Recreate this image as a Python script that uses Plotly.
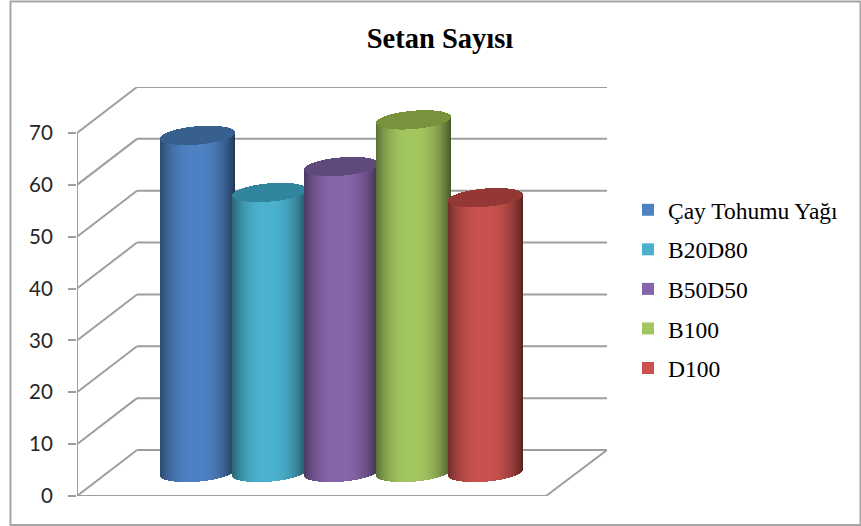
import numpy as np
import plotly.graph_objects as go

TITLE = "Setan Sayısı"
series_names = ["Çay Tohumu Yağı", "B20D80", "B50D50", "B100", "D100"]
series_values = [65, 54, 59, 68, 53]
body_colors = ["#4f82c4", "#4bb3d0", "#8765aa", "#a3c760", "#cb524e"]
cap_colors = ["#38608f", "#31859c", "#604a7b", "#77933c", "#953735"]
y_ticks = [0, 10, 20, 30, 40, 50, 60, 70]

W, H = 861, 526
MARGIN_B = 20
PH = H - MARGIN_B            # plot-area height in pixels
PX_PER_UNIT = 5.186          # pixels per value unit
PX_PER_CAT = 72.0            # pixels per category slot
FIRST_CENTER = 197.5         # pixel centre of first cylinder
AX_L, AX_R, AX_B, AX_T = 77, 607, 496, 87
FRONT_R = 546                # front-right floor corner, pixels
DEPTH_DX = 60 / PX_PER_CAT   # oblique offset of the back wall
DEPTH_DV = 46 / PX_PER_UNIT
LIFT = 23.5 / PX_PER_UNIT    # cylinders stand mid-depth on the floor
CAP_B = 9.2 / PX_PER_UNIT    # half height of the ellipse
CAP_TILT = 3.0 / PX_PER_UNIT
N_SLICES = 75
GRID = "#9e9e9e"

x_lo = (AX_L - FIRST_CENTER) / PX_PER_CAT
x_hi = (AX_R - FIRST_CENTER) / PX_PER_CAT
x_front_r = (FRONT_R - FIRST_CENTER) / PX_PER_CAT
y_hi = (AX_B - AX_T) / PX_PER_UNIT


def py(p):
    """Pixel row to paper fraction."""
    return (PH - p) / PH


def shade(hex_col, f):
    r, g, b = (int(hex_col[k:k + 2], 16) for k in (1, 3, 5))
    return f"rgb({int(r * f)},{int(g * f)},{int(b * f)})"


fig = go.Figure()
t = (np.arange(N_SLICES) + 0.5) / N_SLICES * 2 - 1
# start from the centre slice so the legend swatch takes the main colour
order = np.roll(np.arange(N_SLICES), -N_SLICES // 2)
half_w = N_SLICES / PX_PER_CAT / 2

for i, (name, val, col, cap) in enumerate(zip(series_names, series_values, body_colors, cap_colors)):
    tt = t[order]
    xs = i + tt * half_w
    arc = CAP_B * np.sqrt(1 - tt ** 2)
    tilt = CAP_TILT * tt
    f = 1 - 0.5 * np.abs(tt + 0.05) ** 2.5
    body_base = LIFT + tilt - arc
    body_h = np.full(N_SLICES, float(val))
    cap_base = val + LIFT + tilt - arc
    cap_h = 2 * arc
    fig.add_trace(go.Bar(
        name=name,
        x=np.r_[xs, xs],
        y=np.r_[body_h, cap_h],
        base=np.r_[body_base, cap_base],
        width=1 / PX_PER_CAT,
        marker=dict(color=[shade(col, v) for v in f] + [cap] * N_SLICES, line=dict(width=0)),
        hoverinfo="skip",
        legendgroup=name,
    ))

shapes = []


def seg(x0, y0, x1, y1):
    shapes.append(dict(type="line", xref="x", yref="y", x0=x0, y0=y0, x1=x1, y1=y1,
                       layer="below", line=dict(color=GRID, width=2)))


for v in y_ticks:
    seg(x_lo, v, x_lo + DEPTH_DX, v + DEPTH_DV)
    seg(x_lo + DEPTH_DX, v + DEPTH_DV, x_hi, v + DEPTH_DV)
seg(x_lo, 0, x_lo, y_ticks[-1])
seg(x_lo, 0, x_front_r, 0)
seg(x_front_r, 0, x_hi, DEPTH_DV)

# chart-area frame
shapes.append(dict(type="rect", xref="paper", yref="paper", x0=10.5 / W, x1=860.5 / W,
                   y0=py(525), y1=py(1.5), layer="below",
                   line=dict(color="#a6a6a6", width=2)))

fig.update_layout(
    width=W, height=H, autosize=False,
    margin=dict(l=0, r=0, t=0, b=MARGIN_B),
    paper_bgcolor="white", plot_bgcolor="rgba(0,0,0,0)",
    barmode="overlay", bargap=0,
    title=dict(text=TITLE, x=440 / W, xanchor="center", y=1 - 38 / H, yanchor="middle",
               font=dict(family="Liberation Serif", size=28.5, color="black", weight="bold")),
    xaxis=dict(visible=False, range=[x_lo, x_hi], domain=[AX_L / W, AX_R / W], fixedrange=True),
    yaxis=dict(range=[0, y_hi], domain=[py(AX_B), py(AX_T)], tickvals=y_ticks,
               ticks="outside", ticklen=8, tickwidth=2, tickcolor=GRID,
               showgrid=False, zeroline=False, showline=False, ticklabelstandoff=11,
               tickfont=dict(family="Lato", size=20.5, color="#262626"), fixedrange=True),
    legend=dict(x=628 / W, xanchor="left", y=py(188), yanchor="top",
                font=dict(family="Liberation Serif", size=23.5, color="black"),
                tracegroupgap=6, bgcolor="rgba(0,0,0,0)", traceorder="grouped"),
    shapes=shapes,
    showlegend=True,
)

fig.write_html(
    "out.html", config={"displayModeBar": False},
    post_script=(
        "document.documentElement.style.cssText='margin:0;height:526px;overflow:hidden';"
        "document.body.style.cssText='margin:0;height:526px;overflow:hidden';"
        "var g=document.getElementById('{plot_id}');"
        "g.style.position='absolute';g.style.left='0';g.style.top='0';"
    ),
)
